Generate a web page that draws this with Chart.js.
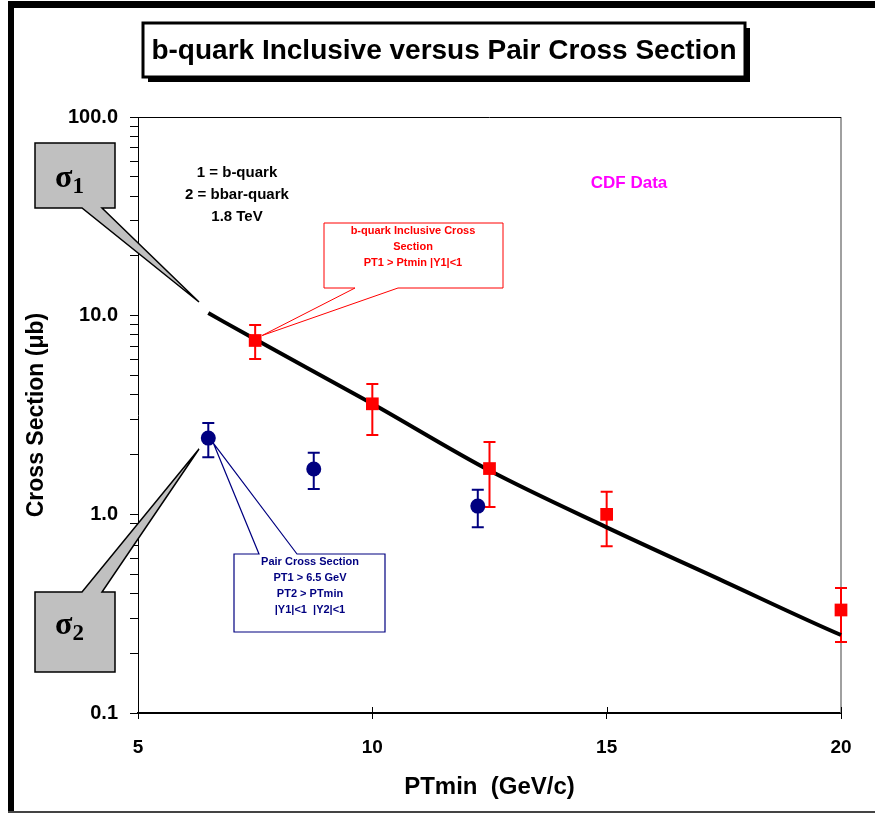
<!DOCTYPE html>
<html lang="en">
<head>
<meta charset="UTF-8">
<title>b-quark Inclusive versus Pair Cross Section</title>
<script src="https://cdn.jsdelivr.net/npm/chart.js"></script>
<style>
  html, body { margin: 0; padding: 0; background: #fff; }
  #chart { display: block; }
</style>
</head>
<body>
<canvas id="chart" width="875" height="814"></canvas>
<script>
// b-quark inclusive cross section (red squares): PTmin (GeV/c), sigma (microbarn)
const inclPt = [7.5, 10, 12.5, 15, 20];
const inclSigma = [7.5, 3.6, 1.7, 1.0, 0.33];
const inclLo = [6.05, 2.51, 1.09, 0.69, 0.228];
const inclHi = [8.97, 4.53, 2.31, 1.30, 0.426];

// pair cross section (blue circles)
const pairPt = [6.5, 8.75, 12.25];
const pairSigma = [2.42, 1.69, 1.10];
const pairLo = [1.94, 1.34, 0.86];
const pairHi = [2.88, 2.04, 1.33];

// theory curve (black line)
const theoryPt = [6.5, 7.5, 10, 12.5, 15, 17.5, 20, 20.15];
const theorySigma = [10.3, 7.6, 3.6, 1.66, 0.86, 0.46, 0.247, 0.239];

const xTicks = [5, 10, 15, 20];
const yTicks = [0.1, 0.2, 0.3, 0.4, 0.5, 0.6, 0.7, 0.8, 0.9,
                1, 2, 3, 4, 5, 6, 7, 8, 9,
                10, 20, 30, 40, 50, 60, 70, 80, 90, 100];
const yLabels = [0.1, 1, 10, 100];

const titleText = 'b-quark Inclusive versus Pair Cross Section';
const keyLines = ['1 = b-quark', '2 = bbar-quark', '1.8 TeV'];
const inclNote = ['b-quark Inclusive Cross', 'Section', 'PT1 > Ptmin |Y1|<1'];
const pairNote = ['Pair Cross Section', 'PT1 > 6.5 GeV', 'PT2 > PTmin', '|Y1|<1  |Y2|<1'];

const SANS = '"Liberation Sans", Arial, sans-serif';
const SERIF = '"Liberation Serif", "Times New Roman", serif';

function pts(xs, ys) { return xs.map((x, i) => ({ x: x, y: ys[i] })); }

function errorBars(chart, xs, lo, hi, color, cap) {
  const { ctx, scales: { x, y } } = chart;
  ctx.save();
  ctx.strokeStyle = color;
  ctx.lineWidth = 2;
  xs.forEach((v, i) => {
    const px = x.getPixelForValue(v);
    const t = y.getPixelForValue(hi[i]), b = y.getPixelForValue(lo[i]);
    ctx.beginPath();
    ctx.moveTo(px, t); ctx.lineTo(px, b);
    ctx.moveTo(px - cap, t); ctx.lineTo(px + cap, t);
    ctx.moveTo(px - cap, b); ctx.lineTo(px + cap, b);
    ctx.stroke();
  });
  ctx.restore();
}

// box with a wedge pointer; side = 'top' or 'bottom'
function callout(ctx, bx, by, bw, bh, side, b1, b2, tip, fill, stroke, lw) {
  ctx.save();
  ctx.beginPath();
  if (side === 'bottom') {
    ctx.moveTo(bx, by);
    ctx.lineTo(bx + bw, by);
    ctx.lineTo(bx + bw, by + bh);
    ctx.lineTo(b2, by + bh);
    ctx.lineTo(tip[0], tip[1]);
    ctx.lineTo(b1, by + bh);
    ctx.lineTo(bx, by + bh);
  } else {
    ctx.moveTo(bx, by);
    ctx.lineTo(b1, by);
    ctx.lineTo(tip[0], tip[1]);
    ctx.lineTo(b2, by);
    ctx.lineTo(bx + bw, by);
    ctx.lineTo(bx + bw, by + bh);
    ctx.lineTo(bx, by + bh);
  }
  ctx.closePath();
  ctx.fillStyle = fill;
  ctx.fill();
  ctx.strokeStyle = stroke;
  ctx.lineWidth = lw;
  ctx.lineJoin = 'miter';
  ctx.stroke();
  ctx.restore();
}

function lines(ctx, arr, cx, y0, step, font, color) {
  ctx.save();
  ctx.font = font;
  ctx.fillStyle = color;
  ctx.textAlign = 'center';
  ctx.textBaseline = 'middle';
  arr.forEach((s, i) => ctx.fillText(s, cx, y0 + i * step));
  ctx.restore();
}

function sigma(ctx, x, y, sub) {
  ctx.save();
  ctx.fillStyle = '#000';
  ctx.textBaseline = 'alphabetic';
  ctx.font = 'bold 32px ' + SERIF;
  ctx.fillText('σ', x, y);
  const w = ctx.measureText('σ').width;
  ctx.font = 'bold 23px ' + SERIF;
  ctx.fillText(sub, x + w, y + 6);
  ctx.restore();
}

const decor = {
  id: 'decor',
  beforeDraw(chart) {
    const ctx = chart.ctx;
    ctx.save();
    ctx.fillStyle = '#fff';
    ctx.fillRect(0, 0, chart.width, chart.height);
    // outer frame
    ctx.fillStyle = '#000';
    ctx.fillRect(8, 1, 867, 7);
    ctx.fillRect(8, 1, 6, 812);
    ctx.fillStyle = '#444';
    ctx.fillRect(8, 811, 867, 2);
    // title box with shadow
    ctx.fillStyle = '#000';
    ctx.fillRect(148, 28, 602, 54);
    ctx.fillStyle = '#fff';
    ctx.fillRect(143, 23, 602, 54);
    ctx.strokeStyle = '#000';
    ctx.lineWidth = 3;
    ctx.strokeRect(143, 23, 602, 54);
    ctx.fillStyle = '#000';
    ctx.font = 'bold 28px ' + SANS;
    ctx.textAlign = 'center';
    ctx.textBaseline = 'middle';
    ctx.fillText(titleText, 444, 51);
    ctx.restore();
  },
  beforeDatasetsDraw(chart) {
    errorBars(chart, inclPt, inclLo, inclHi, '#ff0000', 6);
    errorBars(chart, pairPt, pairLo, pairHi, '#000080', 6);
  },
  afterDraw(chart) {
    const { ctx, chartArea: a, scales: { x, y } } = chart;
    ctx.save();
    // plot frame: top and right edge
    ctx.strokeStyle = '#000';
    ctx.lineWidth = 1;
    ctx.beginPath(); ctx.moveTo(a.left, a.top + 0.5); ctx.lineTo(a.right, a.top + 0.5); ctx.stroke();
    ctx.restore();

    // sigma callouts
    callout(ctx, 35, 143, 80, 65, 'bottom', 82, 102, [199, 302], '#c0c0c0', '#000', 1.5);
    sigma(ctx, 55, 187, '1');
    callout(ctx, 35, 592, 80, 80, 'top', 82, 102, [199, 449], '#c0c0c0', '#000', 1.5);
    sigma(ctx, 55, 634, '2');

    // red note pointing at first inclusive point
    const rx = x.getPixelForValue(inclPt[0]), ry = y.getPixelForValue(inclSigma[0]);
    callout(ctx, 324, 223, 179, 65, 'bottom', 355, 398, [rx + 7, ry - 5], '#fff', '#ff0000', 1);
    lines(ctx, inclNote, 413, 231, 16, 'bold 11px ' + SANS, '#ff0000');

    // blue note pointing at first pair point
    const bx = x.getPixelForValue(pairPt[0]), by = y.getPixelForValue(pairSigma[0]);
    callout(ctx, 234, 554, 151, 78, 'top', 259, 297, [bx + 5, by + 5], '#fff', '#000080', 1.2);
    lines(ctx, pairNote, 310, 562, 16, 'bold 11px ' + SANS, '#000080');

    lines(ctx, keyLines, 237, 173, 22, 'bold 15px ' + SANS, '#000');
    lines(ctx, ['CDF Data'], 629, 183, 0, 'bold 17px ' + SANS, '#ff00ff');
  }
};

// right edge + inner x ticks drawn under the data
const frame = {
  id: 'frame',
  beforeDatasetsDraw(chart) {
    const { ctx, chartArea: a, scales: { x } } = chart;
    ctx.save();
    ctx.strokeStyle = '#808080';
    ctx.lineWidth = 1.5;
    ctx.beginPath(); ctx.moveTo(a.right, a.top); ctx.lineTo(a.right, a.bottom); ctx.stroke();
    ctx.strokeStyle = '#000';
    ctx.lineWidth = 1;
    xTicks.forEach(v => {
      const px = Math.round(x.getPixelForValue(v)) + 0.5;
      ctx.beginPath(); ctx.moveTo(px, a.bottom - 6); ctx.lineTo(px, a.bottom); ctx.stroke();
    });
    ctx.restore();
  }
};

new Chart(document.getElementById('chart'), {
  type: 'scatter',
  data: {
    datasets: [
      {
        label: 'b-quark inclusive',
        data: pts(inclPt, inclSigma),
        pointStyle: 'rect',
        pointRadius: 9,
        backgroundColor: '#ff0000',
        borderColor: '#ff0000',
        borderWidth: 0,
        clip: false
      },
      {
        label: 'pair',
        data: pts(pairPt, pairSigma),
        pointStyle: 'circle',
        pointRadius: 7.5,
        backgroundColor: '#000080',
        borderColor: '#000080',
        borderWidth: 0,
        clip: false
      },
      {
        type: 'line',
        label: 'theory',
        data: pts(theoryPt, theorySigma),
        borderColor: '#000',
        borderWidth: 4,
        pointRadius: 0,
        cubicInterpolationMode: 'monotone',
        fill: false,
        clip: false
      }
    ]
  },
  options: {
    responsive: false,
    animation: false,
    devicePixelRatio: 1,
    layout: { padding: { left: 0, top: 117, right: 34, bottom: 0 } },
    plugins: { legend: { display: false }, tooltip: { enabled: false } },
    scales: {
      x: {
        type: 'linear',
        min: 5,
        max: 20,
        afterBuildTicks: s => { s.ticks = xTicks.map(v => ({ value: v })); },
        afterFit: s => { s.height = 101; },
        grid: { drawOnChartArea: false, tickLength: 6, color: '#000' },
        border: { color: '#000', width: 2 },
        ticks: {
          autoSkip: false, maxRotation: 0, padding: 17, color: '#000',
          font: { family: SANS, size: 19, weight: 'bold' }
        },
        title: {
          display: true, text: 'PTmin  (GeV/c)', color: '#000',
          font: { family: SANS, size: 24, weight: 'bold' },
          padding: { top: 0, bottom: 12 }
        }
      },
      y: {
        type: 'logarithmic',
        min: 0.1,
        max: 100,
        afterBuildTicks: s => { s.ticks = yTicks.map(v => ({ value: v })); },
        afterFit: s => { s.width = 138; },
        grid: { drawOnChartArea: false, tickLength: 8, color: '#000' },
        border: { color: '#000', width: 1 },
        ticks: {
          autoSkip: false, padding: 12, color: '#000',
          font: { family: SANS, size: 20, weight: 'bold' },
          callback: v => yLabels.includes(v) ? v.toFixed(1) : ''
        },
        title: {
          display: true, text: 'Cross Section (μb)', color: '#000',
          font: { family: SANS, size: 23, weight: 'bold' },
          padding: { top: 23, bottom: 0 }
        }
      }
    }
  },
  plugins: [frame, decor]
});
</script>
</body>
</html>
